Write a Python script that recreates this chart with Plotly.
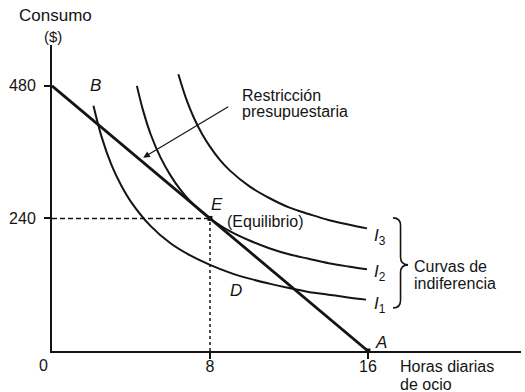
import plotly.graph_objects as go

# budget line (hours of leisure, consumption in $)
budget_x = [0, 16]
budget_y = [480, 0]

# indifference curves
i1_x = [2.1, 2.5, 3, 3.5, 4, 5, 6, 7, 8, 9, 10, 11, 12, 13, 14, 15, 15.9]
i1_y = [444, 389, 338, 300, 270, 226, 195, 173, 156, 142, 131, 122, 114, 107, 102, 97, 93]

i2_x = [4.3, 4.6, 5.0, 5.5, 6.0, 6.5, 7.0, 7.5, 8, 9, 10, 11, 12, 13, 14, 15, 15.95]
i2_y = [480, 437, 392, 350, 318, 292, 271, 254, 240, 217, 200, 186, 175, 167, 159, 153, 148]

i3_x = [6.4, 6.8, 7.2, 7.6, 8, 8.5, 9, 10, 11, 12, 13, 14, 15, 15.95]
i3_y = [501, 456, 421, 393, 370, 346, 327, 298, 277, 260, 248, 237, 229, 222]

# equilibrium point E
eq_x = 8
eq_y = 240

x_ticks = [8, 16]
y_ticks = [240, 480]

INK = "#141414"
FONT = "Liberation Sans, Arial, sans-serif"

fig = go.Figure()

# dashed guides to E
fig.add_trace(go.Scatter(x=[0, eq_x], y=[eq_y, eq_y], mode="lines",
                         line=dict(color=INK, width=1.5, dash="5px,3px")))
fig.add_trace(go.Scatter(x=[eq_x, eq_x], y=[0, eq_y], mode="lines",
                         line=dict(color=INK, width=1.5, dash="3px,3px")))

for cx, cy in [(i1_x, i1_y), (i2_x, i2_y), (i3_x, i3_y)]:
    fig.add_trace(go.Scatter(x=cx, y=cy, mode="lines",
                             line=dict(color=INK, width=2, shape="spline", smoothing=1)))

fig.add_trace(go.Scatter(x=budget_x, y=budget_y, mode="lines",
                         line=dict(color=INK, width=2.8)))

fig.add_trace(go.Scatter(x=[eq_x, budget_x[1]], y=[eq_y, budget_y[1]], mode="markers",
                         marker=dict(color=INK, size=5, symbol="square")))


def label(x, y, text, size=17, xanchor="center", italic=False, ref="data"):
    if italic:
        text = "<i>" + text + "</i>"
    extra = {}
    if ref == "paper":
        extra = dict(xref="paper", yref="paper")
    fig.add_annotation(x=x, y=y, text=text, showarrow=False, xanchor=xanchor,
                       yanchor="middle", font=dict(size=size, color=INK, family=FONT),
                       **extra)


# texts outside the plot area (paper coordinates)
label(0.0064, 1.095, "Consumo", ref="paper")
label(0.002, 1.029, "($)", size=15, ref="paper")
label(-0.019, -0.046, "0", size=16, ref="paper")
label(0.738, -0.052, "Horas diarias", size=16, xanchor="left", ref="paper")
label(0.738, -0.109, "de ocio", size=16, xanchor="left", ref="paper")

label(2.2, 480, "B", italic=True)
label(8.35, 265, "E", italic=True)
label(8.75, 234, "(Equilibrio)", size=16, xanchor="left")
label(9.3, 109, "D", italic=True)
label(16.65, 15, "A", italic=True)

label(16.6, 206, "<i>I</i><sub>3</sub>")
label(16.6, 142, "<i>I</i><sub>2</sub>")
label(16.6, 84, "<i>I</i><sub>1</sub>")

label(9.5, 462, "Restricción", size=16, xanchor="left")
label(9.5, 434, "presupuestaria", size=16, xanchor="left")

label(18.25, 153, "Curvas de", size=16, xanchor="left")
label(18.25, 122, "indiferencia", size=16, xanchor="left")

# arrow pointing at the budget line
fig.add_annotation(x=4.62, y=350, ax=9.0, ay=444, axref="x", ayref="y",
                   text="", showarrow=True, arrowhead=2, arrowsize=1.1,
                   arrowwidth=1.2, arrowcolor=INK)

# brace grouping the indifference curves
bx0, bx1, btip = 17.27, 17.65, 18.03
btop, bmid, bbot = 241, 156, 78
d = 14
brace = (f"M {bx0},{btop} Q {bx1},{btop} {bx1},{btop - d} "
         f"L {bx1},{bmid + d} Q {bx1},{bmid} {btip},{bmid} "
         f"Q {bx1},{bmid} {bx1},{bmid - d} "
         f"L {bx1},{bbot + d} Q {bx1},{bbot} {bx0},{bbot}")
fig.add_shape(type="path", path=brace, xref="x", yref="y",
              line=dict(color=INK, width=1.6))

fig.update_xaxes(range=[0, 23.75], showline=True, linecolor=INK, linewidth=2,
                 showgrid=False, zeroline=False, tickvals=x_ticks,
                 ticks="outside", ticklen=6, tickwidth=1.5, tickcolor=INK,
                 ticklabelstandoff=-6,
                 tickfont=dict(size=16, color=INK, family=FONT))
fig.update_yaxes(range=[0, 554], showline=True, linecolor=INK, linewidth=2,
                 showgrid=False, zeroline=False, tickvals=y_ticks,
                 ticks="outside", ticklen=6, tickwidth=1.5, tickcolor=INK,
                 ticklabelstandoff=5,
                 tickfont=dict(size=16, color=INK, family=FONT))

fig.update_layout(
    width=525,
    height=392,
    showlegend=False,
    paper_bgcolor="white",
    plot_bgcolor="white",
    font=dict(family=FONT, color=INK),
    margin=dict(l=52, r=4, t=45, b=41),
)

fig.write_html("out.html", config={"displayModeBar": False},
               post_script="document.body.style.margin='0';")
